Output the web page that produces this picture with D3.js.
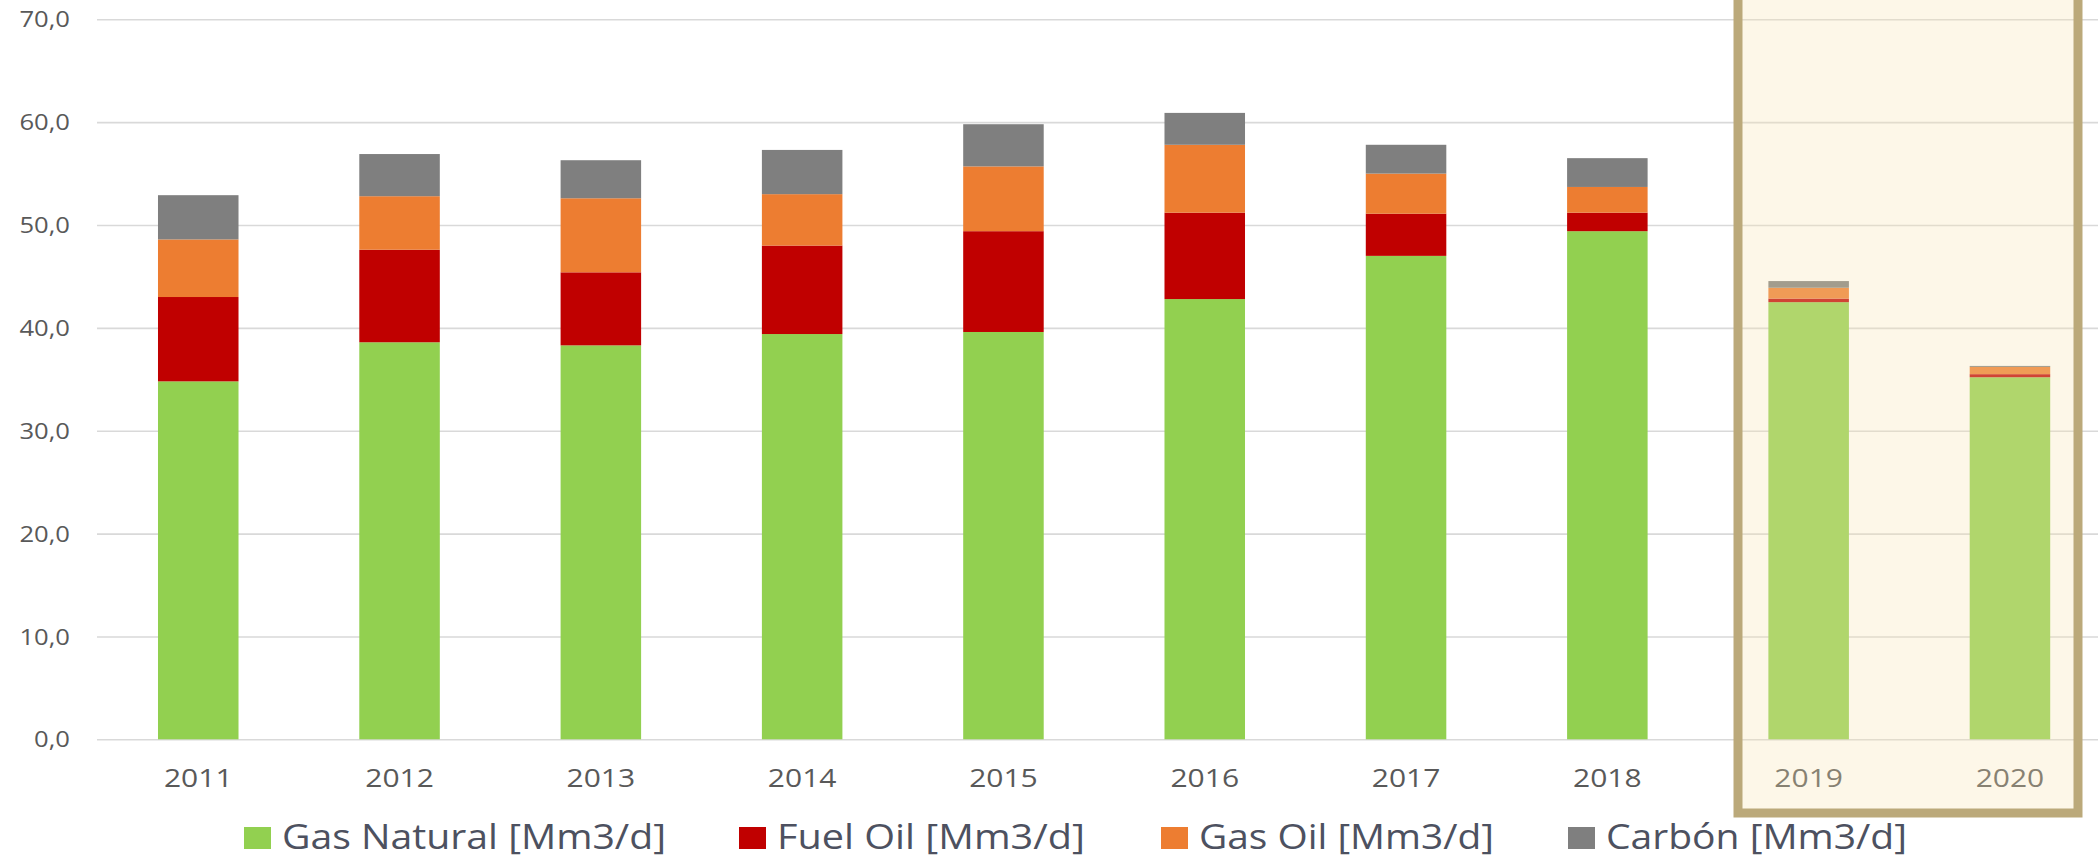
<!DOCTYPE html>
<html>
<head>
<meta charset="utf-8">
<script src="https://cdn.jsdelivr.net/npm/d3@7"></script>
<style>
  html, body { margin: 0; padding: 0; background: #ffffff; }
  svg { display: block; font-family: "Open Sans", "Noto Sans", sans-serif; }
</style>
</head>
<body>
<svg id="chart" width="2098" height="858"></svg>
<script>
const years = ["2011", "2012", "2013", "2014", "2015", "2016", "2017", "2018", "2019", "2020"];
const gasNatural = [34.8, 38.6, 38.3, 39.4, 39.6, 42.8, 47.0, 49.4, 42.5, 35.2];
const fuelOil    = [8.2, 9.0, 7.1, 8.6, 9.8, 8.4, 4.1, 1.8, 0.35, 0.3];
const gasOil     = [5.6, 5.2, 7.2, 5.0, 6.3, 6.6, 3.9, 2.5, 1.05, 0.7];
const carbon     = [4.3, 4.1, 3.7, 4.3, 4.1, 3.1, 2.8, 2.8, 0.65, 0.1];
const seriesKeys = ["gas", "fuel", "gasoil", "carbon"];
const seriesNames = ["Gas Natural [Mm3/d]", "Fuel Oil [Mm3/d]", "Gas Oil [Mm3/d]", "Carbón [Mm3/d]"];
const seriesColors = ["#92d050", "#c00000", "#ed7d31", "#7f7f7f"];
const yTicks = [0, 10, 20, 30, 40, 50, 60, 70];
const highlightYears = ["2019", "2020"];

const rows = years.map((yr, i) => ({
  year: yr, gas: gasNatural[i], fuel: fuelOil[i], gasoil: gasOil[i], carbon: carbon[i]
}));

const W = 2098, H = 858;
const svg = d3.select("#chart");

const x = d3.scaleBand().domain(years).range([97.6, 2110.6]).paddingInner(0.6).paddingOuter(0.3);
const y = d3.scaleLinear().domain([0, 70]).range([739.3, 19.3]);
const color = d3.scaleOrdinal().domain(seriesKeys).range(seriesColors);

// gridlines
const grid = svg.append("g").attr("transform", "translate(97,0)")
  .call(d3.axisRight(y).tickValues(yTicks).tickSize(W - 97).tickFormat(""));
grid.select(".domain").remove();
grid.selectAll("line").attr("stroke", "#d9d9d9").attr("stroke-width", 1.6);

// stacked bars
const stacked = d3.stack().keys(seriesKeys)(rows);
svg.append("g").selectAll("g").data(stacked).join("g")
  .attr("fill", d => color(d.key))
  .selectAll("rect").data(d => d).join("rect")
  .attr("x", d => x(d.data.year))
  .attr("width", x.bandwidth())
  .attr("y", d => y(d[1]))
  .attr("height", d => y(d[0]) - y(d[1]));

function stretch(sel, factor) {
  sel.each(function () {
    const w = this.getComputedTextLength();
    d3.select(this).attr("textLength", w * factor).attr("lengthAdjust", "spacingAndGlyphs");
  });
}

// y axis labels
const yAx = svg.append("g").attr("transform", "translate(70,0)")
  .call(d3.axisLeft(y).tickValues(yTicks).tickSize(0).tickPadding(0)
    .tickFormat(d => d.toFixed(1).replace(".", ",")));
yAx.select(".domain").remove();
yAx.selectAll("text").attr("fill", "#595959").attr("font-size", 21).attr("font-family", "Open Sans")
  .attr("dy", "0.36em");
stretch(yAx.selectAll("text"), 1.22);

// x axis labels
const xAx = svg.append("g").attr("transform", "translate(0,739.3)")
  .call(d3.axisBottom(x).tickSize(0).tickPadding(0));
xAx.select(".domain").remove();
xAx.selectAll("text").attr("fill", "#595959").attr("font-size", 25).attr("font-family", "Open Sans")
  .attr("dy", 0).attr("y", 48);
stretch(xAx.selectAll("text"), 1.2);

// highlight box (translucent overlay + border)
svg.append("rect")
  .attr("x", 1738).attr("y", -20)
  .attr("width", 2078 - 1738).attr("height", 813 + 20)
  .attr("fill", "rgb(248,228,177)").attr("fill-opacity", 0.294);
svg.append("rect")
  .attr("x", 1738).attr("y", -20)
  .attr("width", 2078 - 1738).attr("height", 813 + 20)
  .attr("fill", "none").attr("stroke", "#bba97a").attr("stroke-width", 9);

// legend
const legendSquareX = [244, 739, 1161, 1568];
const legendTextW = [384, 308, 295, 301];
const legend = svg.append("g");
seriesNames.forEach((name, i) => {
  legend.append("rect").attr("x", legendSquareX[i]).attr("y", 827)
    .attr("width", 27).attr("height", 22).attr("fill", seriesColors[i]);
  legend.append("text").attr("x", legendSquareX[i] + 38).attr("y", 849)
    .attr("font-size", 34).attr("font-family", "Open Sans").attr("fill", "#4d5160")
    .attr("textLength", legendTextW[i]).attr("lengthAdjust", "spacingAndGlyphs")
    .text(name);
});
</script>
</body>
</html>
